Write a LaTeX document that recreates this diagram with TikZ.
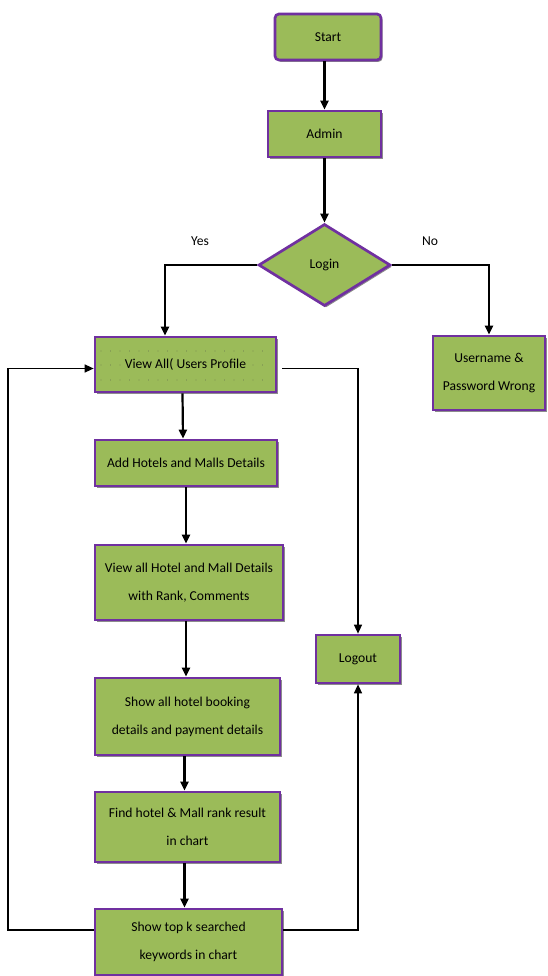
\documentclass[tikz,border=0pt]{standalone}
\usepackage{fontspec}
\setmainfont{Carlito}
\usetikzlibrary{shapes.geometric,arrows.meta,shadows}
\definecolor{boxgreen}{HTML}{9BBB59}
\definecolor{boxpurple}{HTML}{7030A0}
\begin{document}
\begin{tikzpicture}[x=1pt,y=-1pt,
  every node/.style={font=\fontsize{13.6}{28}\selectfont},
  box/.style={draw=boxpurple, line width=2.7pt, fill=boxgreen, align=center, inner sep=2pt,
    drop shadow={shadow xshift=1.6pt, shadow yshift=-1.8pt, fill=black!45, opacity=1}},
  arr/.style={line width=2.2pt, -{Triangle[length=9pt,width=8pt]}},
  loop/.style={line width=1.4pt},
  looparr/.style={line width=1.4pt, -{Triangle[length=9pt,width=8pt]}}]
\useasboundingbox (0,0) rectangle (547,976);
\fill[white] (0,0) rectangle (547,976);

\node[box, rounded corners=4pt, minimum width=106pt, minimum height=46pt] (start) at (328,37) {Start};
\node[box, minimum width=113pt, minimum height=46pt] (admin) at (324.5,134) {Admin};
\node[box, diamond, inner sep=0pt, minimum width=132pt, minimum height=82pt] (login) at (324.5,265) {Login};
\node[box, minimum width=112pt, minimum height=74pt] (user) at (489,373) {Username \&\\Password Wrong};
\node[box, minimum width=181pt, minimum height=55pt] (view) at (185.5,364.5) {};
\foreach \yy in {351,365,380}
  \draw[black!70, line width=0.9pt, line cap=round, dash pattern=on 0pt off 9.5pt] (101,\yy) -- (272,\yy);
\node (viewtext) at (view.center) {View All( Users Profile};
\node[box, minimum width=182pt, minimum height=46pt] (add) at (186,463) {Add Hotels and Malls Details};
\node[box, minimum width=188pt, minimum height=75pt] (viewall) at (189,582.5) {View all Hotel and Mall Details\\with Rank, Comments};
\node[box, minimum width=185pt, minimum height=77pt] (booking) at (187.5,716.5) {Show all hotel booking\\details and payment details};
\node[box, minimum width=185pt, minimum height=70pt] (find) at (187.5,827) {Find hotel \& Mall rank result\\in chart};
\node[box, minimum width=187pt, minimum height=66pt] (topk) at (188.5,942) {Show top k searched\\keywords in chart};
\node[box, minimum width=84pt, minimum height=48pt] (logout) at (358,659) {Logout};

\node (yes) at (200,241) {Yes};
\node (no) at (430,241) {No};

\coordinate (lx) at (8,0);
\coordinate (yx) at (165,0);

\draw[arr] (admin.north |- start.south) -- (admin.north);
\draw[arr] (admin.south) -- (login.north);
\draw[arr] (login.west) -| (yx |- view.north);
\draw[arr] (login.east) -| (user.north);
\draw[arr] ([xshift=-3pt]view.south) -- ([xshift=-3pt]add.north);
\draw[arr] ([xshift=-3pt]add.south -| viewall.north) -- ([xshift=-3pt]viewall.north);
\draw[arr] ([xshift=-3pt]viewall.south) -- ([xshift=-3pt]viewall.south |- booking.north);
\draw[arr] ([xshift=-3pt]booking.south) -- ([xshift=-3pt]booking.south |- find.north);
\draw[arr] ([xshift=-3pt]find.south) -- ([xshift=-3pt]find.south |- topk.north);
\draw[looparr] ([yshift=12pt]topk.west) -- ([yshift=12pt]topk.west -| lx) |- ([yshift=-4pt]view.west);
\draw[looparr] ([xshift=5pt,yshift=-4pt]view.east) -| (logout.north);
\draw[looparr] ([yshift=12pt]topk.east) -| (logout.south);
\end{tikzpicture}
\end{document}
